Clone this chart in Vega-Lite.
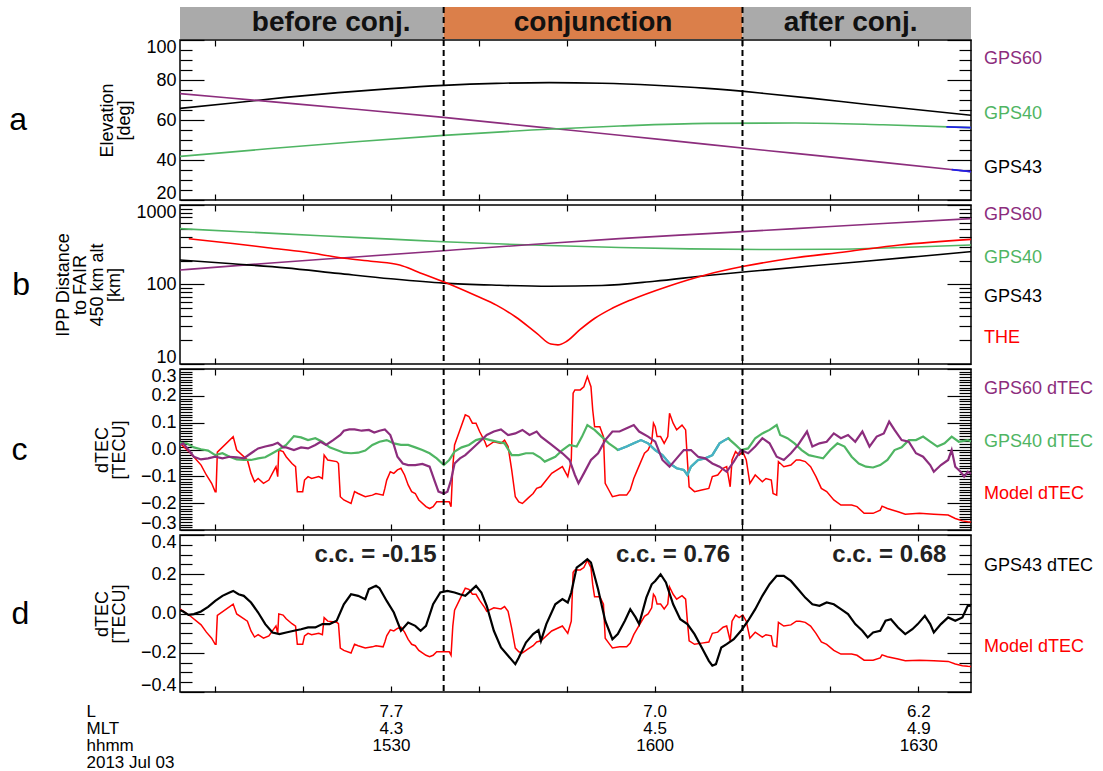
{
"$schema": "https://vega.github.io/schema/vega-lite/v6.json",
"padding": {"left": 8, "top": 6, "right": 4, "bottom": 2},
"config": {
 "font": "Liberation Sans",
 "view": {"stroke": "#000000", "strokeWidth": 1.5},
 "axis": {"labelFont": "Liberation Sans", "labelFontSize": 18, "labelColor": "#000000", "titleFont": "Liberation Sans", "titleFontSize": 18, "titleFontWeight": "normal", "titleColor": "#000000", "tickColor": "#000000", "tickWidth": 1.2, "domain": false, "grid": false, "labelOverlap": false, "labelFlush": false, "labelBound": false, "titlePadding": 12, "titleLineHeight": 17}
},
"datasets": {
 "phases": [
  {"phase": "before", "start": 6, "end": 36, "mid": 23.2, "label": "before conj."},
  {"phase": "conj", "start": 36, "end": 70, "mid": 53, "label": "conjunction"},
  {"phase": "after", "start": 70, "end": 96, "mid": 82.3, "label": "after conj."}
 ],
 "conj": [{"t": 36}, {"t": 70}],
 "labels": [
  {"p": "a", "t": 96, "v": 90.5, "text": "GPS60", "s": "GPS60"},
  {"p": "a", "t": 96, "v": 63, "text": "GPS40", "s": "GPS40"},
  {"p": "a", "t": 96, "v": 36, "text": "GPS43", "s": "GPS43"},
  {"p": "b", "t": 96, "v": 748, "text": "GPS60", "s": "GPS60"},
  {"p": "b", "t": 96, "v": 215, "text": "GPS40", "s": "GPS40"},
  {"p": "b", "t": 96, "v": 70, "text": "GPS43", "s": "GPS43"},
  {"p": "b", "t": 96, "v": 21.2, "text": "THE", "s": "THE"},
  {"p": "c", "t": 96, "v": 0.226, "text": "GPS60 dTEC", "s": "GPS60"},
  {"p": "c", "t": 96, "v": 0.028, "text": "GPS40 dTEC", "s": "GPS40"},
  {"p": "c", "t": 96, "v": -0.166, "text": "Model dTEC", "s": "Model"},
  {"p": "d", "t": 96, "v": 0.241, "text": "GPS43 dTEC", "s": "GPS43"},
  {"p": "d", "t": 96, "v": -0.171, "text": "Model dTEC", "s": "Model"}
 ],
 "cc": [
  {"t": 35.2, "v": 0.3, "text": "c.c. = -0.15"},
  {"t": 68.6, "v": 0.3, "text": "c.c. = 0.76"},
  {"t": 93.2, "v": 0.3, "text": "c.c. = 0.68"}
 ],
 "elev": [
  {"t":6,"v":65.8,"s":"GPS43"},{"t":12,"v":68.5,"s":"GPS43"},{"t":18,"v":71.3,"s":"GPS43"},{"t":24,"v":73.7,"s":"GPS43"},{"t":30,"v":75.7,"s":"GPS43"},{"t":36,"v":77.3,"s":"GPS43"},{"t":42,"v":78.3,"s":"GPS43"},{"t":48,"v":78.7,"s":"GPS43"},{"t":54,"v":78.4,"s":"GPS43"},{"t":60,"v":77.4,"s":"GPS43"},{"t":66,"v":75.8,"s":"GPS43"},{"t":72,"v":73.5,"s":"GPS43"},{"t":78,"v":70.8,"s":"GPS43"},{"t":84,"v":67.9,"s":"GPS43"},{"t":90,"v":65.1,"s":"GPS43"},{"t":96,"v":62.4,"s":"GPS43"},
  {"t":6,"v":73.2,"s":"GPS60"},{"t":16,"v":69.3,"s":"GPS60"},{"t":26,"v":65.4,"s":"GPS60"},{"t":36,"v":61.3,"s":"GPS60"},{"t":46,"v":56.8,"s":"GPS60"},{"t":56,"v":52.4,"s":"GPS60"},{"t":66,"v":47.8,"s":"GPS60"},{"t":76,"v":43.3,"s":"GPS60"},{"t":86,"v":38.8,"s":"GPS60"},{"t":96,"v":34.2,"s":"GPS60"},
  {"t":6,"v":41.8,"s":"GPS40"},{"t":16,"v":45.6,"s":"GPS40"},{"t":26,"v":49.1,"s":"GPS40"},{"t":36,"v":52.3,"s":"GPS40"},{"t":46,"v":55.0,"s":"GPS40"},{"t":56,"v":57.0,"s":"GPS40"},{"t":66,"v":58.3,"s":"GPS40"},{"t":76,"v":58.5,"s":"GPS40"},{"t":86,"v":57.6,"s":"GPS40"},{"t":96,"v":56.2,"s":"GPS40"},
  {"t":93.2,"v":56.55,"s":"blue1"},{"t":96,"v":56.2,"s":"blue1"},
  {"t":93.8,"v":35.2,"s":"blue2"},{"t":96,"v":34.2,"s":"blue2"}
 ],
 "ipp": [
  {"t":6,"v":504,"s":"GPS40"},{"t":14,"v":455,"s":"GPS40"},{"t":22,"v":410,"s":"GPS40"},{"t":30,"v":372,"s":"GPS40"},{"t":36,"v":345,"s":"GPS40"},{"t":42,"v":325,"s":"GPS40"},{"t":48,"v":309,"s":"GPS40"},{"t":56,"v":292,"s":"GPS40"},{"t":64,"v":281,"s":"GPS40"},{"t":72,"v":276,"s":"GPS40"},{"t":80,"v":277,"s":"GPS40"},{"t":88,"v":292,"s":"GPS40"},{"t":96,"v":314,"s":"GPS40"},
  {"t":6,"v":152,"s":"GPS60"},{"t":16,"v":185,"s":"GPS60"},{"t":26,"v":222,"s":"GPS60"},{"t":36,"v":266,"s":"GPS60"},{"t":46,"v":318,"s":"GPS60"},{"t":56,"v":378,"s":"GPS60"},{"t":66,"v":437,"s":"GPS60"},{"t":76,"v":505,"s":"GPS60"},{"t":86,"v":585,"s":"GPS60"},{"t":96,"v":673,"s":"GPS60"},
  {"t":6,"v":203,"s":"GPS43"},{"t":12,"v":182,"s":"GPS43"},{"t":18,"v":162,"s":"GPS43"},{"t":24,"v":138,"s":"GPS43"},{"t":30,"v":118,"s":"GPS43"},{"t":36,"v":104,"s":"GPS43"},{"t":42,"v":98,"s":"GPS43"},{"t":48,"v":95,"s":"GPS43"},{"t":54,"v":97,"s":"GPS43"},{"t":60,"v":110,"s":"GPS43"},{"t":66,"v":130,"s":"GPS43"},{"t":72,"v":150,"s":"GPS43"},{"t":78,"v":172,"s":"GPS43"},{"t":84,"v":196,"s":"GPS43"},{"t":90,"v":225,"s":"GPS43"},{"t":96,"v":259,"s":"GPS43"},
  {"t":7,"v":377,"s":"THE"},{"t":12,"v":328,"s":"THE"},{"t":16,"v":290,"s":"THE"},{"t":20,"v":258,"s":"THE"},{"t":24.7,"v":214,"s":"THE"},{"t":28,"v":195,"s":"THE"},{"t":31,"v":176,"s":"THE"},{"t":33,"v":145,"s":"THE"},{"t":36,"v":108,"s":"THE"},{"t":39.7,"v":72,"s":"THE"},{"t":42,"v":55,"s":"THE"},{"t":44.2,"v":39,"s":"THE"},{"t":46.6,"v":24.3,"s":"THE"},{"t":48.2,"v":17.8,"s":"THE"},{"t":49,"v":17.4,"s":"THE"},{"t":49.9,"v":19,"s":"THE"},{"t":51.5,"v":27,"s":"THE"},{"t":53.2,"v":37.6,"s":"THE"},{"t":55,"v":49,"s":"THE"},{"t":57.3,"v":64,"s":"THE"},{"t":61.4,"v":94,"s":"THE"},{"t":65.8,"v":132,"s":"THE"},{"t":70,"v":168,"s":"THE"},{"t":75.6,"v":214,"s":"THE"},{"t":81.8,"v":258,"s":"THE"},{"t":87.9,"v":314,"s":"THE"},{"t":96,"v":370,"s":"THE"}
 ],
 "dtec": [
  {"t":6,"v":0.023,"s":"Model"},{"t":7.2,"v":-0.014,"s":"Model"},{"t":8.4,"v":-0.058,"s":"Model"},{"t":9,"v":-0.095,"s":"Model"},{"t":9.6,"v":-0.126,"s":"Model"},{"t":10,"v":-0.157,"s":"Model"},{"t":10.1,"v":-0.157,"s":"Model"},{"t":10.25,"v":-0.01,"s":"Model"},{"t":12.05,"v":0.048,"s":"Model"},{"t":12.45,"v":-0.002,"s":"Model"},{"t":13.67,"v":-0.039,"s":"Model"},{"t":14.08,"v":-0.089,"s":"Model"},{"t":14.48,"v":-0.12,"s":"Model"},{"t":14.89,"v":-0.108,"s":"Model"},{"t":15.5,"v":-0.126,"s":"Model"},{"t":16.11,"v":-0.114,"s":"Model"},{"t":16.72,"v":-0.076,"s":"Model"},{"t":16.92,"v":-0.064,"s":"Model"},{"t":17.12,"v":-0.101,"s":"Model"},{"t":17.24,"v":-0.002,"s":"Model"},{"t":17.73,"v":-0.008,"s":"Model"},{"t":18.08,"v":-0.027,"s":"Model"},{"t":18.74,"v":-0.052,"s":"Model"},{"t":19.15,"v":-0.064,"s":"Model"},{"t":19.35,"v":-0.157,"s":"Model"},{"t":19.96,"v":-0.157,"s":"Model"},{"t":20.17,"v":-0.114,"s":"Model"},{"t":20.57,"v":-0.101,"s":"Model"},{"t":20.98,"v":-0.108,"s":"Model"},{"t":21.79,"v":-0.101,"s":"Model"},{"t":22.2,"v":-0.108,"s":"Model"},{"t":22.4,"v":-0.021,"s":"Model"},{"t":22.81,"v":-0.039,"s":"Model"},{"t":23.83,"v":-0.045,"s":"Model"},{"t":24.03,"v":-0.052,"s":"Model"},{"t":24.24,"v":-0.176,"s":"Model"},{"t":24.64,"v":-0.188,"s":"Model"},{"t":25.46,"v":-0.201,"s":"Model"},{"t":25.86,"v":-0.157,"s":"Model"},{"t":26.27,"v":-0.164,"s":"Model"},{"t":27.08,"v":-0.176,"s":"Model"},{"t":27.89,"v":-0.17,"s":"Model"},{"t":28.3,"v":-0.164,"s":"Model"},{"t":29.11,"v":-0.17,"s":"Model"},{"t":29.31,"v":-0.145,"s":"Model"},{"t":29.52,"v":-0.114,"s":"Model"},{"t":29.93,"v":-0.083,"s":"Model"},{"t":30.33,"v":-0.089,"s":"Model"},{"t":30.74,"v":-0.076,"s":"Model"},{"t":31.14,"v":-0.07,"s":"Model"},{"t":31.55,"v":-0.095,"s":"Model"},{"t":31.96,"v":-0.132,"s":"Model"},{"t":32.36,"v":-0.157,"s":"Model"},{"t":32.77,"v":-0.164,"s":"Model"},{"t":33.17,"v":-0.188,"s":"Model"},{"t":33.99,"v":-0.213,"s":"Model"},{"t":34.4,"v":-0.22,"s":"Model"},{"t":34.8,"v":-0.213,"s":"Model"},{"t":35.21,"v":-0.195,"s":"Model"},{"t":36.02,"v":-0.195,"s":"Model"},{"t":36.63,"v":-0.195,"s":"Model"},{"t":36.84,"v":-0.213,"s":"Model"},{"t":37.04,"v":-0.064,"s":"Model"},{"t":37.24,"v":0.017,"s":"Model"},{"t":37.85,"v":0.073,"s":"Model"},{"t":38.46,"v":0.129,"s":"Model"},{"t":38.87,"v":0.123,"s":"Model"},{"t":39.27,"v":0.098,"s":"Model"},{"t":39.68,"v":0.098,"s":"Model"},{"t":40.09,"v":0.067,"s":"Model"},{"t":40.69,"v":0.029,"s":"Model"},{"t":40.9,"v":0.011,"s":"Model"},{"t":41.71,"v":0.029,"s":"Model"},{"t":42.52,"v":0.023,"s":"Model"},{"t":42.93,"v":0.035,"s":"Model"},{"t":43.33,"v":0.011,"s":"Model"},{"t":43.74,"v":-0.076,"s":"Model"},{"t":44.15,"v":-0.176,"s":"Model"},{"t":44.55,"v":-0.195,"s":"Model"},{"t":44.96,"v":-0.201,"s":"Model"},{"t":45.57,"v":-0.182,"s":"Model"},{"t":46.18,"v":-0.164,"s":"Model"},{"t":46.58,"v":-0.145,"s":"Model"},{"t":47.07,"v":-0.139,"s":"Model"},{"t":48.29,"v":-0.089,"s":"Model"},{"t":49.51,"v":-0.064,"s":"Model"},{"t":50.12,"v":-0.101,"s":"Model"},{"t":50.52,"v":-0.039,"s":"Model"},{"t":50.73,"v":0.21,"s":"Model"},{"t":50.93,"v":0.222,"s":"Model"},{"t":51.54,"v":0.222,"s":"Model"},{"t":51.95,"v":0.234,"s":"Model"},{"t":52.35,"v":0.272,"s":"Model"},{"t":52.76,"v":0.234,"s":"Model"},{"t":52.96,"v":0.147,"s":"Model"},{"t":53.17,"v":0.085,"s":"Model"},{"t":53.77,"v":0.085,"s":"Model"},{"t":54.18,"v":0.048,"s":"Model"},{"t":54.38,"v":-0.126,"s":"Model"},{"t":54.79,"v":-0.151,"s":"Model"},{"t":55.2,"v":-0.176,"s":"Model"},{"t":56.01,"v":-0.17,"s":"Model"},{"t":56.82,"v":-0.17,"s":"Model"},{"t":57.23,"v":-0.151,"s":"Model"},{"t":57.63,"v":-0.108,"s":"Model"},{"t":58.04,"v":-0.076,"s":"Model"},{"t":58.85,"v":-0.014,"s":"Model"},{"t":59.26,"v":-0.002,"s":"Model"},{"t":59.67,"v":0.029,"s":"Model"},{"t":59.87,"v":0.098,"s":"Model"},{"t":60.07,"v":0.085,"s":"Model"},{"t":60.28,"v":0.048,"s":"Model"},{"t":60.68,"v":0.048,"s":"Model"},{"t":61.09,"v":0.023,"s":"Model"},{"t":61.5,"v":0.048,"s":"Model"},{"t":61.7,"v":0.135,"s":"Model"},{"t":62.11,"v":0.098,"s":"Model"},{"t":62.51,"v":0.073,"s":"Model"},{"t":63.12,"v":0.091,"s":"Model"},{"t":63.53,"v":0.073,"s":"Model"},{"t":63.73,"v":-0.039,"s":"Model"},{"t":63.93,"v":-0.139,"s":"Model"},{"t":64.54,"v":-0.157,"s":"Model"},{"t":65.36,"v":-0.151,"s":"Model"},{"t":66.17,"v":-0.145,"s":"Model"},{"t":66.57,"v":-0.101,"s":"Model"},{"t":67.18,"v":-0.095,"s":"Model"},{"t":67.79,"v":-0.07,"s":"Model"},{"t":68.2,"v":-0.064,"s":"Model"},{"t":68.6,"v":-0.139,"s":"Model"},{"t":68.81,"v":-0.039,"s":"Model"},{"t":69.21,"v":-0.008,"s":"Model"},{"t":69.62,"v":-0.021,"s":"Model"},{"t":70.03,"v":-0.008,"s":"Model"},{"t":70.43,"v":-0.039,"s":"Model"},{"t":70.84,"v":-0.126,"s":"Model"},{"t":71.45,"v":-0.095,"s":"Model"},{"t":72.26,"v":-0.12,"s":"Model"},{"t":72.67,"v":-0.108,"s":"Model"},{"t":73.28,"v":-0.114,"s":"Model"},{"t":73.48,"v":-0.164,"s":"Model"},{"t":73.89,"v":-0.17,"s":"Model"},{"t":74.09,"v":-0.045,"s":"Model"},{"t":74.7,"v":-0.064,"s":"Model"},{"t":75.51,"v":-0.058,"s":"Model"},{"t":76.12,"v":-0.039,"s":"Model"},{"t":76.53,"v":-0.039,"s":"Model"},{"t":77.14,"v":-0.045,"s":"Model"},{"t":77.75,"v":-0.064,"s":"Model"},{"t":78.36,"v":-0.101,"s":"Model"},{"t":78.97,"v":-0.145,"s":"Model"},{"t":79.58,"v":-0.157,"s":"Model"},{"t":80.39,"v":-0.188,"s":"Model"},{"t":81.2,"v":-0.207,"s":"Model"},{"t":82.42,"v":-0.207,"s":"Model"},{"t":83.03,"v":-0.213,"s":"Model"},{"t":83.84,"v":-0.238,"s":"Model"},{"t":84.86,"v":-0.238,"s":"Model"},{"t":85.67,"v":-0.226,"s":"Model"},{"t":85.88,"v":-0.211,"s":"Model"},{"t":86.49,"v":-0.22,"s":"Model"},{"t":87.7,"v":-0.232,"s":"Model"},{"t":88.52,"v":-0.241,"s":"Model"},{"t":90.14,"v":-0.238,"s":"Model"},{"t":91.77,"v":-0.241,"s":"Model"},{"t":93.4,"v":-0.244,"s":"Model"},{"t":94.21,"v":-0.257,"s":"Model"},{"t":95.02,"v":-0.266,"s":"Model"},{"t":95.63,"v":-0.269,"s":"Model"},{"t":96,"v":-0.27,"s":"Model"},
  {"t":6,"v":0.025,"s":"GPS40"},{"t":6.76,"v":0.023,"s":"GPS40"},{"t":7.58,"v":0.008,"s":"GPS40"},{"t":8.39,"v":0.001,"s":"GPS40"},{"t":9.2,"v":-0.004,"s":"GPS40"},{"t":10.01,"v":-0.021,"s":"GPS40"},{"t":10.83,"v":-0.014,"s":"GPS40"},{"t":11.64,"v":-0.027,"s":"GPS40"},{"t":12.45,"v":-0.037,"s":"GPS40"},{"t":13.26,"v":-0.039,"s":"GPS40"},{"t":14.08,"v":-0.039,"s":"GPS40"},{"t":14.89,"v":-0.033,"s":"GPS40"},{"t":15.7,"v":-0.029,"s":"GPS40"},{"t":16.52,"v":-0.014,"s":"GPS40"},{"t":17.32,"v":0.001,"s":"GPS40"},{"t":18.08,"v":0.017,"s":"GPS40"},{"t":18.96,"v":0.05,"s":"GPS40"},{"t":19.77,"v":0.045,"s":"GPS40"},{"t":20.57,"v":0.035,"s":"GPS40"},{"t":21.4,"v":0.042,"s":"GPS40"},{"t":22.2,"v":0.029,"s":"GPS40"},{"t":23.02,"v":0.008,"s":"GPS40"},{"t":23.83,"v":-0.002,"s":"GPS40"},{"t":24.64,"v":-0.012,"s":"GPS40"},{"t":25.46,"v":-0.014,"s":"GPS40"},{"t":26.27,"v":-0.012,"s":"GPS40"},{"t":27.08,"v":-0.004,"s":"GPS40"},{"t":27.89,"v":0.017,"s":"GPS40"},{"t":28.7,"v":0.029,"s":"GPS40"},{"t":29.52,"v":0.035,"s":"GPS40"},{"t":30.33,"v":0.023,"s":"GPS40"},{"t":31.14,"v":0.017,"s":"GPS40"},{"t":31.96,"v":0.017,"s":"GPS40"},{"t":32.77,"v":0.008,"s":"GPS40"},{"t":33.58,"v":-0.002,"s":"GPS40"},{"t":34.4,"v":-0.014,"s":"GPS40"},{"t":35.21,"v":-0.033,"s":"GPS40"},{"t":36.02,"v":-0.058,"s":"GPS40"},{"t":36.63,"v":-0.039,"s":"GPS40"},{"t":37.24,"v":-0.008,"s":"GPS40"},{"t":38.05,"v":0.008,"s":"GPS40"},{"t":38.87,"v":0.017,"s":"GPS40"},{"t":39.68,"v":0.035,"s":"GPS40"},{"t":40.49,"v":0.042,"s":"GPS40"},{"t":41.31,"v":0.035,"s":"GPS40"},{"t":42.12,"v":0.029,"s":"GPS40"},{"t":42.93,"v":0.023,"s":"GPS40"},{"t":43.74,"v":-0.021,"s":"GPS40"},{"t":44.55,"v":-0.021,"s":"GPS40"},{"t":45.36,"v":-0.014,"s":"GPS40"},{"t":46.18,"v":-0.014,"s":"GPS40"},{"t":46.99,"v":-0.03,"s":"GPS40"},{"t":47.5,"v":-0.045,"s":"GPS40"},{"t":48.7,"v":-0.027,"s":"GPS40"},{"t":49.51,"v":-0.002,"s":"GPS40"},{"t":50.32,"v":0.017,"s":"GPS40"},{"t":51.13,"v":0.011,"s":"GPS40"},{"t":51.74,"v":0.048,"s":"GPS40"},{"t":52.35,"v":0.091,"s":"GPS40"},{"t":53.17,"v":0.073,"s":"GPS40"},{"t":53.98,"v":0.048,"s":"GPS40"},{"t":54.79,"v":0.023,"s":"GPS40"},{"t":55.6,"v":0.004,"s":"GPS40"},{"t":55.81,"v":-0.002,"s":"GPS40"},{"t":56.82,"v":0.011,"s":"GPS40"},{"t":57.63,"v":0.023,"s":"GPS40"},{"t":58.45,"v":0.035,"s":"GPS40"},{"t":59.26,"v":0.023,"s":"GPS40"},{"t":60.07,"v":-0.002,"s":"GPS40"},{"t":60.89,"v":-0.021,"s":"GPS40"},{"t":61.7,"v":-0.052,"s":"GPS40"},{"t":62.51,"v":-0.07,"s":"GPS40"},{"t":63.32,"v":-0.076,"s":"GPS40"},{"t":63.73,"v":-0.095,"s":"GPS40"},{"t":64.14,"v":-0.064,"s":"GPS40"},{"t":64.95,"v":-0.039,"s":"GPS40"},{"t":65.76,"v":-0.033,"s":"GPS40"},{"t":66.57,"v":-0.021,"s":"GPS40"},{"t":67.39,"v":0.023,"s":"GPS40"},{"t":67.99,"v":0.035,"s":"GPS40"},{"t":68.4,"v":0.042,"s":"GPS40"},{"t":68.6,"v":0.035,"s":"GPS40"},{"t":69.21,"v":0.017,"s":"GPS40"},{"t":69.83,"v":-0.002,"s":"GPS40"},{"t":70.64,"v":0.004,"s":"GPS40"},{"t":71.45,"v":0.042,"s":"GPS40"},{"t":72.26,"v":0.06,"s":"GPS40"},{"t":73.08,"v":0.073,"s":"GPS40"},{"t":73.89,"v":0.091,"s":"GPS40"},{"t":74.29,"v":0.054,"s":"GPS40"},{"t":75.11,"v":0.042,"s":"GPS40"},{"t":75.92,"v":0.023,"s":"GPS40"},{"t":76.73,"v":-0.002,"s":"GPS40"},{"t":77.55,"v":-0.021,"s":"GPS40"},{"t":78.36,"v":-0.027,"s":"GPS40"},{"t":79.17,"v":-0.033,"s":"GPS40"},{"t":79.98,"v":-0.002,"s":"GPS40"},{"t":80.8,"v":0.023,"s":"GPS40"},{"t":81.61,"v":0.011,"s":"GPS40"},{"t":82.42,"v":-0.027,"s":"GPS40"},{"t":83.23,"v":-0.052,"s":"GPS40"},{"t":84.05,"v":-0.064,"s":"GPS40"},{"t":84.86,"v":-0.067,"s":"GPS40"},{"t":85.67,"v":-0.058,"s":"GPS40"},{"t":86.49,"v":-0.039,"s":"GPS40"},{"t":87.3,"v":-0.002,"s":"GPS40"},{"t":88.11,"v":0.008,"s":"GPS40"},{"t":88.92,"v":0.035,"s":"GPS40"},{"t":89.74,"v":0.035,"s":"GPS40"},{"t":90.55,"v":0.048,"s":"GPS40"},{"t":91.36,"v":0.029,"s":"GPS40"},{"t":92.17,"v":0.011,"s":"GPS40"},{"t":92.99,"v":0.023,"s":"GPS40"},{"t":93.8,"v":0.048,"s":"GPS40"},{"t":94.61,"v":0.029,"s":"GPS40"},{"t":95.63,"v":0.035,"s":"GPS40"},{"t":96,"v":0.03,"s":"GPS40"},
  {"t":55.81,"v":-0.002,"s":"GPS40c"},{"t":56.82,"v":0.011,"s":"GPS40c"},{"t":57.63,"v":0.023,"s":"GPS40c"},{"t":58.45,"v":0.035,"s":"GPS40c"},{"t":59.26,"v":0.023,"s":"GPS40c"},{"t":60.07,"v":-0.002,"s":"GPS40c"},{"t":60.89,"v":-0.021,"s":"GPS40c"},{"t":61.7,"v":-0.052,"s":"GPS40c"},{"t":62.51,"v":-0.07,"s":"GPS40c"},{"t":63.32,"v":-0.076,"s":"GPS40c"},{"t":63.73,"v":-0.095,"s":"GPS40c"},{"t":64.14,"v":-0.064,"s":"GPS40c"},{"t":64.95,"v":-0.039,"s":"GPS40c"},{"t":65.76,"v":-0.033,"s":"GPS40c"},{"t":66.57,"v":-0.021,"s":"GPS40c"},{"t":67.39,"v":0.023,"s":"GPS40c"},{"t":67.99,"v":0.035,"s":"GPS40c"},{"t":68.4,"v":0.042,"s":"GPS40c"},
  {"t":6,"v":0.017,"s":"GPS60"},{"t":6.36,"v":0.023,"s":"GPS60"},{"t":6.97,"v":-0.002,"s":"GPS60"},{"t":7.58,"v":-0.027,"s":"GPS60"},{"t":8.39,"v":-0.037,"s":"GPS60"},{"t":9.2,"v":-0.033,"s":"GPS60"},{"t":10.01,"v":-0.027,"s":"GPS60"},{"t":10.83,"v":-0.033,"s":"GPS60"},{"t":11.64,"v":-0.027,"s":"GPS60"},{"t":12.45,"v":-0.029,"s":"GPS60"},{"t":13.26,"v":-0.033,"s":"GPS60"},{"t":14.08,"v":-0.014,"s":"GPS60"},{"t":14.89,"v":0.004,"s":"GPS60"},{"t":15.7,"v":0.011,"s":"GPS60"},{"t":16.52,"v":0.017,"s":"GPS60"},{"t":17.12,"v":0.025,"s":"GPS60"},{"t":17.73,"v":0.008,"s":"GPS60"},{"t":18.08,"v":0.008,"s":"GPS60"},{"t":18.96,"v":-0.002,"s":"GPS60"},{"t":19.77,"v":0.008,"s":"GPS60"},{"t":20.57,"v":0.004,"s":"GPS60"},{"t":21.4,"v":0.017,"s":"GPS60"},{"t":22,"v":0.029,"s":"GPS60"},{"t":22.62,"v":0.017,"s":"GPS60"},{"t":23.43,"v":0.035,"s":"GPS60"},{"t":24.24,"v":0.054,"s":"GPS60"},{"t":24.64,"v":0.07,"s":"GPS60"},{"t":25.26,"v":0.075,"s":"GPS60"},{"t":25.86,"v":0.075,"s":"GPS60"},{"t":26.67,"v":0.07,"s":"GPS60"},{"t":27.49,"v":0.073,"s":"GPS60"},{"t":28.1,"v":0.063,"s":"GPS60"},{"t":28.7,"v":0.07,"s":"GPS60"},{"t":29.31,"v":0.075,"s":"GPS60"},{"t":29.93,"v":0.054,"s":"GPS60"},{"t":30.33,"v":0.017,"s":"GPS60"},{"t":30.74,"v":-0.027,"s":"GPS60"},{"t":31.35,"v":-0.052,"s":"GPS60"},{"t":31.96,"v":-0.058,"s":"GPS60"},{"t":32.77,"v":-0.058,"s":"GPS60"},{"t":33.58,"v":-0.054,"s":"GPS60"},{"t":34.4,"v":-0.064,"s":"GPS60"},{"t":35,"v":-0.12,"s":"GPS60"},{"t":35.41,"v":-0.157,"s":"GPS60"},{"t":36.02,"v":-0.164,"s":"GPS60"},{"t":36.43,"v":-0.157,"s":"GPS60"},{"t":36.84,"v":-0.114,"s":"GPS60"},{"t":37.24,"v":-0.052,"s":"GPS60"},{"t":37.85,"v":-0.033,"s":"GPS60"},{"t":38.46,"v":-0.021,"s":"GPS60"},{"t":39.27,"v":0.004,"s":"GPS60"},{"t":40.09,"v":0.029,"s":"GPS60"},{"t":40.9,"v":0.054,"s":"GPS60"},{"t":41.71,"v":0.067,"s":"GPS60"},{"t":42.52,"v":0.075,"s":"GPS60"},{"t":43.33,"v":0.054,"s":"GPS60"},{"t":44.15,"v":0.06,"s":"GPS60"},{"t":44.96,"v":0.073,"s":"GPS60"},{"t":45.77,"v":0.054,"s":"GPS60"},{"t":46.58,"v":0.067,"s":"GPS60"},{"t":47.07,"v":0.048,"s":"GPS60"},{"t":48.29,"v":0.017,"s":"GPS60"},{"t":49.51,"v":-0.014,"s":"GPS60"},{"t":50.32,"v":-0.039,"s":"GPS60"},{"t":50.93,"v":-0.095,"s":"GPS60"},{"t":51.34,"v":-0.126,"s":"GPS60"},{"t":51.95,"v":-0.089,"s":"GPS60"},{"t":52.76,"v":-0.039,"s":"GPS60"},{"t":53.57,"v":-0.014,"s":"GPS60"},{"t":54.38,"v":0.035,"s":"GPS60"},{"t":55.2,"v":0.067,"s":"GPS60"},{"t":56.01,"v":0.067,"s":"GPS60"},{"t":56.82,"v":0.079,"s":"GPS60"},{"t":57.63,"v":0.091,"s":"GPS60"},{"t":58.24,"v":0.067,"s":"GPS60"},{"t":59.26,"v":0.048,"s":"GPS60"},{"t":60.07,"v":0.029,"s":"GPS60"},{"t":60.89,"v":-0.039,"s":"GPS60"},{"t":61.7,"v":-0.064,"s":"GPS60"},{"t":62.51,"v":-0.033,"s":"GPS60"},{"t":63.32,"v":-0.002,"s":"GPS60"},{"t":64.14,"v":-0.002,"s":"GPS60"},{"t":64.95,"v":-0.027,"s":"GPS60"},{"t":65.76,"v":-0.033,"s":"GPS60"},{"t":66.57,"v":-0.052,"s":"GPS60"},{"t":67.39,"v":-0.064,"s":"GPS60"},{"t":68.2,"v":-0.083,"s":"GPS60"},{"t":69.01,"v":-0.045,"s":"GPS60"},{"t":69.83,"v":-0.002,"s":"GPS60"},{"t":70.64,"v":-0.014,"s":"GPS60"},{"t":71.45,"v":0.011,"s":"GPS60"},{"t":72.26,"v":0.042,"s":"GPS60"},{"t":73.08,"v":0.023,"s":"GPS60"},{"t":73.89,"v":-0.027,"s":"GPS60"},{"t":74.7,"v":-0.039,"s":"GPS60"},{"t":75.51,"v":-0.014,"s":"GPS60"},{"t":76.33,"v":0.017,"s":"GPS60"},{"t":77.34,"v":0.067,"s":"GPS60"},{"t":77.95,"v":0.011,"s":"GPS60"},{"t":78.76,"v":0.023,"s":"GPS60"},{"t":79.58,"v":0.029,"s":"GPS60"},{"t":80.39,"v":0.06,"s":"GPS60"},{"t":81.2,"v":0.042,"s":"GPS60"},{"t":82.01,"v":0.054,"s":"GPS60"},{"t":82.83,"v":0.029,"s":"GPS60"},{"t":83.64,"v":0.067,"s":"GPS60"},{"t":84.45,"v":0.011,"s":"GPS60"},{"t":85.27,"v":0.048,"s":"GPS60"},{"t":86.08,"v":0.06,"s":"GPS60"},{"t":86.69,"v":0.104,"s":"GPS60"},{"t":87.3,"v":0.073,"s":"GPS60"},{"t":88.11,"v":0.035,"s":"GPS60"},{"t":88.92,"v":0.029,"s":"GPS60"},{"t":89.74,"v":-0.014,"s":"GPS60"},{"t":90.55,"v":-0.027,"s":"GPS60"},{"t":91.36,"v":-0.058,"s":"GPS60"},{"t":91.77,"v":-0.083,"s":"GPS60"},{"t":92.58,"v":-0.058,"s":"GPS60"},{"t":93.4,"v":-0.039,"s":"GPS60"},{"t":93.8,"v":-0.002,"s":"GPS60"},{"t":94.21,"v":-0.064,"s":"GPS60"},{"t":94.82,"v":-0.083,"s":"GPS60"},{"t":95.22,"v":-0.101,"s":"GPS60"},{"t":95.63,"v":-0.083,"s":"GPS60"},{"t":96,"v":-0.09,"s":"GPS60"},
  {"t":6,"v":0.017,"s":"GPS43"},{"t":6.36,"v":0.01,"s":"GPS43"},{"t":6.97,"v":-0.007,"s":"GPS43"},{"t":7.58,"v":-0.003,"s":"GPS43"},{"t":8.39,"v":0.01,"s":"GPS43"},{"t":9.2,"v":0.034,"s":"GPS43"},{"t":10.01,"v":0.064,"s":"GPS43"},{"t":10.83,"v":0.09,"s":"GPS43"},{"t":11.64,"v":0.107,"s":"GPS43"},{"t":12.05,"v":0.115,"s":"GPS43"},{"t":12.66,"v":0.098,"s":"GPS43"},{"t":13.26,"v":0.09,"s":"GPS43"},{"t":14.08,"v":0.056,"s":"GPS43"},{"t":14.89,"v":0.005,"s":"GPS43"},{"t":15.7,"v":-0.054,"s":"GPS43"},{"t":16.52,"v":-0.097,"s":"GPS43"},{"t":17.32,"v":-0.105,"s":"GPS43"},{"t":18.08,"v":-0.097,"s":"GPS43"},{"t":18.96,"v":-0.088,"s":"GPS43"},{"t":19.77,"v":-0.08,"s":"GPS43"},{"t":20.57,"v":-0.071,"s":"GPS43"},{"t":21.4,"v":-0.071,"s":"GPS43"},{"t":22.2,"v":-0.054,"s":"GPS43"},{"t":23.02,"v":-0.054,"s":"GPS43"},{"t":23.83,"v":-0.037,"s":"GPS43"},{"t":24.64,"v":0.047,"s":"GPS43"},{"t":25.46,"v":0.098,"s":"GPS43"},{"t":26.27,"v":0.09,"s":"GPS43"},{"t":27.08,"v":0.073,"s":"GPS43"},{"t":27.49,"v":0.124,"s":"GPS43"},{"t":28.3,"v":0.141,"s":"GPS43"},{"t":28.7,"v":0.129,"s":"GPS43"},{"t":29.52,"v":0.064,"s":"GPS43"},{"t":30.33,"v":0.005,"s":"GPS43"},{"t":31.14,"v":-0.088,"s":"GPS43"},{"t":31.96,"v":-0.046,"s":"GPS43"},{"t":32.77,"v":-0.063,"s":"GPS43"},{"t":33.38,"v":-0.088,"s":"GPS43"},{"t":33.99,"v":-0.063,"s":"GPS43"},{"t":34.8,"v":0.047,"s":"GPS43"},{"t":35.62,"v":0.107,"s":"GPS43"},{"t":36.43,"v":0.115,"s":"GPS43"},{"t":37.24,"v":0.107,"s":"GPS43"},{"t":37.85,"v":0.098,"s":"GPS43"},{"t":38.46,"v":0.09,"s":"GPS43"},{"t":39.07,"v":0.115,"s":"GPS43"},{"t":39.68,"v":0.141,"s":"GPS43"},{"t":40.29,"v":0.107,"s":"GPS43"},{"t":40.9,"v":0.039,"s":"GPS43"},{"t":41.71,"v":-0.088,"s":"GPS43"},{"t":42.52,"v":-0.173,"s":"GPS43"},{"t":43.33,"v":-0.215,"s":"GPS43"},{"t":44.15,"v":-0.258,"s":"GPS43"},{"t":44.55,"v":-0.224,"s":"GPS43"},{"t":45.36,"v":-0.148,"s":"GPS43"},{"t":46.18,"v":-0.105,"s":"GPS43"},{"t":46.79,"v":-0.085,"s":"GPS43"},{"t":47.07,"v":-0.139,"s":"GPS43"},{"t":47.68,"v":-0.054,"s":"GPS43"},{"t":48.7,"v":0.047,"s":"GPS43"},{"t":49.51,"v":0.073,"s":"GPS43"},{"t":50.12,"v":0.056,"s":"GPS43"},{"t":50.52,"v":0.107,"s":"GPS43"},{"t":51.13,"v":0.234,"s":"GPS43"},{"t":51.74,"v":0.254,"s":"GPS43"},{"t":52.35,"v":0.277,"s":"GPS43"},{"t":52.76,"v":0.26,"s":"GPS43"},{"t":53.57,"v":0.124,"s":"GPS43"},{"t":54.38,"v":-0.037,"s":"GPS43"},{"t":55.2,"v":-0.131,"s":"GPS43"},{"t":55.81,"v":-0.105,"s":"GPS43"},{"t":56.62,"v":-0.037,"s":"GPS43"},{"t":57.23,"v":0.022,"s":"GPS43"},{"t":57.84,"v":-0.02,"s":"GPS43"},{"t":58.24,"v":-0.054,"s":"GPS43"},{"t":59.06,"v":0.081,"s":"GPS43"},{"t":59.67,"v":0.149,"s":"GPS43"},{"t":60.07,"v":0.166,"s":"GPS43"},{"t":60.68,"v":0.2,"s":"GPS43"},{"t":61.29,"v":0.158,"s":"GPS43"},{"t":62.11,"v":0.047,"s":"GPS43"},{"t":62.92,"v":-0.029,"s":"GPS43"},{"t":63.73,"v":-0.054,"s":"GPS43"},{"t":64.54,"v":-0.105,"s":"GPS43"},{"t":65.36,"v":-0.173,"s":"GPS43"},{"t":66.17,"v":-0.241,"s":"GPS43"},{"t":66.57,"v":-0.266,"s":"GPS43"},{"t":66.98,"v":-0.258,"s":"GPS43"},{"t":67.59,"v":-0.173,"s":"GPS43"},{"t":68.2,"v":-0.156,"s":"GPS43"},{"t":69.01,"v":-0.131,"s":"GPS43"},{"t":69.83,"v":-0.088,"s":"GPS43"},{"t":70.64,"v":-0.037,"s":"GPS43"},{"t":71.45,"v":0.022,"s":"GPS43"},{"t":72.26,"v":0.09,"s":"GPS43"},{"t":73.08,"v":0.149,"s":"GPS43"},{"t":73.89,"v":0.192,"s":"GPS43"},{"t":74.7,"v":0.192,"s":"GPS43"},{"t":75.51,"v":0.166,"s":"GPS43"},{"t":76.33,"v":0.124,"s":"GPS43"},{"t":77.14,"v":0.081,"s":"GPS43"},{"t":77.95,"v":0.047,"s":"GPS43"},{"t":78.76,"v":0.039,"s":"GPS43"},{"t":79.58,"v":0.056,"s":"GPS43"},{"t":80.39,"v":0.047,"s":"GPS43"},{"t":81.2,"v":0.022,"s":"GPS43"},{"t":82.01,"v":-0.003,"s":"GPS43"},{"t":82.83,"v":-0.054,"s":"GPS43"},{"t":83.64,"v":-0.088,"s":"GPS43"},{"t":84.25,"v":-0.122,"s":"GPS43"},{"t":84.86,"v":-0.097,"s":"GPS43"},{"t":85.67,"v":-0.088,"s":"GPS43"},{"t":86.28,"v":-0.037,"s":"GPS43"},{"t":86.89,"v":-0.029,"s":"GPS43"},{"t":87.7,"v":-0.071,"s":"GPS43"},{"t":88.52,"v":-0.105,"s":"GPS43"},{"t":89.33,"v":-0.08,"s":"GPS43"},{"t":89.94,"v":-0.054,"s":"GPS43"},{"t":90.75,"v":-0.012,"s":"GPS43"},{"t":91.36,"v":-0.054,"s":"GPS43"},{"t":91.77,"v":-0.097,"s":"GPS43"},{"t":92.58,"v":-0.054,"s":"GPS43"},{"t":93.4,"v":-0.02,"s":"GPS43"},{"t":94.21,"v":-0.037,"s":"GPS43"},{"t":95.02,"v":-0.02,"s":"GPS43"},{"t":95.63,"v":0.039,"s":"GPS43"},{"t":96,"v":0.04,"s":"GPS43"}
 ]
},
"resolve": {"scale": {"color": "independent", "x": "independent", "y": "independent"}},
"bounds": "flush",
"spacing": 1,
"vconcat": [
 {
  "width": 791, "height": 32,
  "view": {"stroke": null},
  "layer": [
   {"data": {"name": "phases"}, "mark": {"type": "rect"},
    "encoding": {
     "x": {"field": "start", "type": "quantitative", "scale": {"domain": [6, 96], "nice": false, "zero": false}, "axis": null},
     "x2": {"field": "end"},
     "color": {"field": "phase", "type": "nominal", "scale": {"domain": ["before", "conj", "after"], "range": ["#aaaaaa", "#db7f4a", "#aaaaaa"]}, "legend": null}
    }},
   {"data": {"name": "phases"}, "mark": {"type": "text", "fontSize": 28, "fontWeight": "bold", "color": "#111111", "baseline": "middle"},
    "encoding": {
     "x": {"field": "mid", "type": "quantitative", "axis": null},
     "text": {"field": "label"}
    }},
   {"data": {"name": "conj"}, "mark": {"type": "rule", "strokeDash": [6, 4], "strokeWidth": 2, "color": "#000000"},
    "encoding": {"x": {"field": "t", "type": "quantitative", "axis": null}}}
  ]
 },
 {
  "spacing": 5,
  "bounds": "flush",
  "resolve": {"scale": {"color": "independent", "x": "independent", "y": "independent"}},
  "vconcat": [
   {
    "width": 791, "height": 160,
    "title": {"text": "a", "orient": "left", "angle": 0, "align": "right", "baseline": "middle", "fontSize": 32, "fontWeight": "normal", "offset": 54},
    "resolve": {"axis": {"x": "independent", "y": "independent"}},
    "layer": [
     {"data": {"name": "elev"}, "mark": {"type": "line", "strokeWidth": 1.6, "interpolate": "monotone", "clip": true},
      "encoding": {
       "x": {"field": "t", "type": "quantitative", "scale": {"domain": [6, 96], "nice": false, "zero": false},
             "axis": {"orient": "bottom", "values": [10, 20, 30, 40, 50, 60, 70, 80, 90], "labels": false, "tickSize": -6, "title": null}},
       "y": {"field": "v", "type": "quantitative", "scale": {"domain": [20, 100], "nice": false, "zero": false},
             "axis": {"orient": "left", "values": [20, 25, 30, 35, 40, 45, 50, 55, 60, 65, 70, 75, 80, 85, 90, 95, 100], "format": "d",
                      "labelExpr": "datum.value % 20 == 0 ? datum.label : ''", "labelFlush": true, "labelFlushOffset": 2,
                      "tickSize": {"condition": {"test": "datum.value % 20 == 0", "value": -24}, "value": -12},
                      "labelPadding": 28, "title": ["Elevation", "[deg]"]}},
       "color": {"field": "s", "type": "nominal", "legend": null,
                 "scale": {"domain": ["GPS43", "GPS60", "GPS40", "THE", "Model", "GPS40c", "blue1", "blue2"], "range": ["#000000", "#8c2d7d", "#4fb563", "#ff0000", "#ff0000", "#46b0c9", "#2020e8", "#2020e8"]}}
      }},
     {"data": {"name": "labels"}, "transform": [{"filter": "datum.p == 'a'"}],
      "mark": {"type": "text", "align": "left", "baseline": "middle", "dx": 13, "fontSize": 18},
      "encoding": {
       "x": {"field": "t", "type": "quantitative", "axis": {"orient": "top", "values": [10, 20, 30, 40, 50, 60, 70, 80, 90], "labels": false, "tickSize": -6, "title": null}},
       "y": {"field": "v", "type": "quantitative",
             "axis": {"orient": "right", "values": [20, 25, 30, 35, 40, 45, 50, 55, 60, 65, 70, 75, 80, 85, 90, 95, 100], "labels": false,
                      "tickSize": {"condition": {"test": "datum.value % 20 == 0", "value": -24}, "value": -12}, "title": null}},
       "text": {"field": "text"},
       "color": {"field": "s", "type": "nominal", "legend": null,
                 "scale": {"domain": ["GPS43", "GPS60", "GPS40", "THE", "Model", "GPS40c", "blue1", "blue2"], "range": ["#000000", "#8c2d7d", "#4fb563", "#ff0000", "#ff0000", "#46b0c9", "#2020e8", "#2020e8"]}}
      }},
     {"data": {"name": "conj"}, "mark": {"type": "rule", "strokeDash": [6, 4], "strokeWidth": 2, "color": "#000000"},
      "encoding": {"x": {"field": "t", "type": "quantitative", "axis": null}}}
    ]
   },
   {
    "width": 791, "height": 159,
    "title": {"text": "b", "orient": "left", "angle": 0, "align": "right", "baseline": "middle", "fontSize": 32, "fontWeight": "normal", "offset": 7},
    "resolve": {"axis": {"x": "independent", "y": "independent"}},
    "layer": [
     {"data": {"name": "ipp"}, "mark": {"type": "line", "strokeWidth": 1.6, "interpolate": "monotone", "clip": true},
      "encoding": {
       "x": {"field": "t", "type": "quantitative", "scale": {"domain": [6, 96], "nice": false, "zero": false},
             "axis": {"orient": "bottom", "values": [10, 20, 30, 40, 50, 60, 70, 80, 90], "labels": false, "tickSize": -6, "title": null}},
       "y": {"field": "v", "type": "quantitative", "scale": {"type": "log", "domain": [10, 1000], "nice": false},
             "axis": {"orient": "left", "values": [10, 20, 30, 40, 50, 60, 70, 80, 90, 100, 200, 300, 400, 500, 600, 700, 800, 900, 1000], "format": "d",
                      "labelExpr": "(datum.value == 10 || datum.value == 100 || datum.value == 1000) ? datum.label : ''", "labelFlush": true, "labelFlushOffset": 2,
                      "tickSize": {"condition": {"test": "datum.value == 10 || datum.value == 100 || datum.value == 1000", "value": -24}, "value": -12},
                      "labelPadding": 28, "title": ["IPP Distance", "to FAIR", "450 km alt", "[km]"]}},
       "color": {"field": "s", "type": "nominal", "legend": null,
                 "scale": {"domain": ["GPS43", "GPS60", "GPS40", "THE", "Model", "GPS40c", "blue1", "blue2"], "range": ["#000000", "#8c2d7d", "#4fb563", "#ff0000", "#ff0000", "#46b0c9", "#2020e8", "#2020e8"]}}
      }},
     {"data": {"name": "labels"}, "transform": [{"filter": "datum.p == 'b'"}],
      "mark": {"type": "text", "align": "left", "baseline": "middle", "dx": 13, "fontSize": 18},
      "encoding": {
       "x": {"field": "t", "type": "quantitative", "axis": {"orient": "top", "values": [10, 20, 30, 40, 50, 60, 70, 80, 90], "labels": false, "tickSize": -6, "title": null}},
       "y": {"field": "v", "type": "quantitative",
             "axis": {"orient": "right", "values": [10, 20, 30, 40, 50, 60, 70, 80, 90, 100, 200, 300, 400, 500, 600, 700, 800, 900, 1000], "labels": false,
                      "tickSize": {"condition": {"test": "datum.value == 10 || datum.value == 100 || datum.value == 1000", "value": -24}, "value": -12}, "title": null}},
       "text": {"field": "text"},
       "color": {"field": "s", "type": "nominal", "legend": null,
                 "scale": {"domain": ["GPS43", "GPS60", "GPS40", "THE", "Model", "GPS40c", "blue1", "blue2"], "range": ["#000000", "#8c2d7d", "#4fb563", "#ff0000", "#ff0000", "#46b0c9", "#2020e8", "#2020e8"]}}
      }},
     {"data": {"name": "conj"}, "mark": {"type": "rule", "strokeDash": [6, 4], "strokeWidth": 2, "color": "#000000"},
      "encoding": {"x": {"field": "t", "type": "quantitative", "axis": null}}}
    ]
   },
   {
    "width": 791, "height": 161,
    "title": {"text": "c", "orient": "left", "angle": 0, "align": "right", "baseline": "middle", "fontSize": 32, "fontWeight": "normal", "offset": 50},
    "resolve": {"axis": {"x": "independent", "y": "independent"}},
    "layer": [
     {"data": {"name": "dtec"}, "transform": [{"filter": "datum.s == 'Model'"}], "mark": {"type": "line", "strokeWidth": 1.5, "clip": true},
      "encoding": {
       "x": {"field": "t", "type": "quantitative", "scale": {"domain": [6, 96], "nice": false, "zero": false},
             "axis": {"orient": "bottom", "values": [10, 20, 30, 40, 50, 60, 70, 80, 90], "labels": false, "tickSize": -6, "title": null}},
       "y": {"field": "v", "type": "quantitative", "scale": {"domain": [-0.3, 0.3], "nice": false, "zero": false},
             "axis": {"orient": "left", "values": [-0.3,-0.29,-0.28,-0.27,-0.26,-0.25,-0.24,-0.23,-0.22,-0.21,-0.2,-0.19,-0.18,-0.17,-0.16,-0.15,-0.14,-0.13,-0.12,-0.11,-0.1,-0.09,-0.08,-0.07,-0.06,-0.05,-0.04,-0.03,-0.02,-0.01,0,0.01,0.02,0.03,0.04,0.05,0.06,0.07,0.08,0.09,0.1,0.11,0.12,0.13,0.14,0.15,0.16,0.17,0.18,0.19,0.2,0.21,0.22,0.23,0.24,0.25,0.26,0.27,0.28,0.29,0.3], "format": ".1f",
                      "labelExpr": "abs(datum.value * 10 - round(datum.value * 10)) < 0.001 ? datum.label : ''", "labelFlush": true, "labelFlushOffset": 2,
                      "tickSize": {"condition": {"test": "abs(datum.value * 10 - round(datum.value * 10)) < 0.001", "value": -24}, "value": -12},
                      "labelPadding": 28, "title": ["dTEC", "[TECU]"]}},
       "color": {"field": "s", "type": "nominal", "legend": null,
                 "scale": {"domain": ["GPS43", "GPS60", "GPS40", "THE", "Model", "GPS40c", "blue1", "blue2"], "range": ["#000000", "#8c2d7d", "#4fb563", "#ff0000", "#ff0000", "#46b0c9", "#2020e8", "#2020e8"]}}
      }},
     {"data": {"name": "dtec"}, "transform": [{"filter": "datum.s == 'GPS40' || datum.s == 'GPS40c' || datum.s == 'GPS60'"}], "mark": {"type": "line", "strokeWidth": 2.2, "clip": true},
      "encoding": {
       "x": {"field": "t", "type": "quantitative", "axis": null},
       "y": {"field": "v", "type": "quantitative", "axis": null},
       "color": {"field": "s", "type": "nominal", "legend": null,
                 "scale": {"domain": ["GPS43", "GPS60", "GPS40", "THE", "Model", "GPS40c", "blue1", "blue2"], "range": ["#000000", "#8c2d7d", "#4fb563", "#ff0000", "#ff0000", "#46b0c9", "#2020e8", "#2020e8"]}}
      }},
     {"data": {"name": "labels"}, "transform": [{"filter": "datum.p == 'c'"}],
      "mark": {"type": "text", "align": "left", "baseline": "middle", "dx": 13, "fontSize": 18},
      "encoding": {
       "x": {"field": "t", "type": "quantitative", "axis": {"orient": "top", "values": [10, 20, 30, 40, 50, 60, 70, 80, 90], "labels": false, "tickSize": -6, "title": null}},
       "y": {"field": "v", "type": "quantitative",
             "axis": {"orient": "right", "values": [-0.3,-0.29,-0.28,-0.27,-0.26,-0.25,-0.24,-0.23,-0.22,-0.21,-0.2,-0.19,-0.18,-0.17,-0.16,-0.15,-0.14,-0.13,-0.12,-0.11,-0.1,-0.09,-0.08,-0.07,-0.06,-0.05,-0.04,-0.03,-0.02,-0.01,0,0.01,0.02,0.03,0.04,0.05,0.06,0.07,0.08,0.09,0.1,0.11,0.12,0.13,0.14,0.15,0.16,0.17,0.18,0.19,0.2,0.21,0.22,0.23,0.24,0.25,0.26,0.27,0.28,0.29,0.3], "labels": false,
                      "tickSize": {"condition": {"test": "abs(datum.value * 10 - round(datum.value * 10)) < 0.001", "value": -24}, "value": -12}, "title": null}},
       "text": {"field": "text"},
       "color": {"field": "s", "type": "nominal", "legend": null,
                 "scale": {"domain": ["GPS43", "GPS60", "GPS40", "THE", "Model", "GPS40c", "blue1", "blue2"], "range": ["#000000", "#8c2d7d", "#4fb563", "#ff0000", "#ff0000", "#46b0c9", "#2020e8", "#2020e8"]}}
      }},
     {"data": {"name": "conj"}, "mark": {"type": "rule", "strokeDash": [6, 4], "strokeWidth": 2, "color": "#000000"},
      "encoding": {"x": {"field": "t", "type": "quantitative", "axis": null}}}
    ]
   },
   {
    "width": 791, "height": 157,
    "title": {"text": "d", "orient": "left", "angle": 0, "align": "right", "baseline": "middle", "fontSize": 32, "fontWeight": "normal", "offset": 39},
    "resolve": {"axis": {"x": "independent", "y": "independent"}},
    "layer": [
     {"data": {"name": "dtec"}, "transform": [{"filter": "datum.s == 'Model'"}], "mark": {"type": "line", "strokeWidth": 1.5, "clip": true},
      "encoding": {
       "x": {"field": "t", "type": "quantitative", "scale": {"domain": [6, 96], "nice": false, "zero": false},
             "axis": {"orient": "bottom", "values": [10, 20, 30, 40, 50, 60, 70, 80, 90], "tickSize": -6, "labelPadding": 17,
                      "labelExpr": "datum.value == 30 ? ['7.7', '4.3', '1530'] : datum.value == 60 ? ['7.0', '4.5', '1600'] : datum.value == 90 ? ['6.2', '4.9', '1630'] : ''",
                      "labelFontSize": 17, "labelLineHeight": 17, "labelBaseline": "top", "labelAlign": "center",
                      "title": ["L", "MLT", "hhmm", "2013 Jul 03"], "titleFontSize": 17, "titleLineHeight": 17, "titleX": -94, "titleY": 11, "titleAlign": "left", "titleBaseline": "top", "titleAngle": 0}},
       "y": {"field": "v", "type": "quantitative", "scale": {"domain": [-0.4, 0.4], "nice": false, "zero": false},
             "axis": {"orient": "left", "values": [-0.4,-0.35,-0.3,-0.25,-0.2,-0.15,-0.1,-0.05,0,0.05,0.1,0.15,0.2,0.25,0.3,0.35,0.4], "format": ".1f",
                      "labelExpr": "abs(datum.value * 5 - round(datum.value * 5)) < 0.001 ? datum.label : ''", "labelFlush": true, "labelFlushOffset": 2,
                      "tickSize": {"condition": {"test": "abs(datum.value * 5 - round(datum.value * 5)) < 0.001", "value": -24}, "value": -12},
                      "labelPadding": 28, "title": ["dTEC", "[TECU]"]}},
       "color": {"field": "s", "type": "nominal", "legend": null,
                 "scale": {"domain": ["GPS43", "GPS60", "GPS40", "THE", "Model", "GPS40c", "blue1", "blue2"], "range": ["#000000", "#8c2d7d", "#4fb563", "#ff0000", "#ff0000", "#46b0c9", "#2020e8", "#2020e8"]}}
      }},
     {"data": {"name": "dtec"}, "transform": [{"filter": "datum.s == 'GPS43'"}], "mark": {"type": "line", "strokeWidth": 2.2, "clip": true},
      "encoding": {
       "x": {"field": "t", "type": "quantitative", "axis": null},
       "y": {"field": "v", "type": "quantitative", "axis": null},
       "color": {"field": "s", "type": "nominal", "legend": null,
                 "scale": {"domain": ["GPS43", "GPS60", "GPS40", "THE", "Model", "GPS40c", "blue1", "blue2"], "range": ["#000000", "#8c2d7d", "#4fb563", "#ff0000", "#ff0000", "#46b0c9", "#2020e8", "#2020e8"]}}
      }},
     {"data": {"name": "labels"}, "transform": [{"filter": "datum.p == 'd'"}],
      "mark": {"type": "text", "align": "left", "baseline": "middle", "dx": 13, "fontSize": 18},
      "encoding": {
       "x": {"field": "t", "type": "quantitative", "axis": {"orient": "top", "values": [10, 20, 30, 40, 50, 60, 70, 80, 90], "labels": false, "tickSize": -6, "title": null}},
       "y": {"field": "v", "type": "quantitative",
             "axis": {"orient": "right", "values": [-0.4,-0.35,-0.3,-0.25,-0.2,-0.15,-0.1,-0.05,0,0.05,0.1,0.15,0.2,0.25,0.3,0.35,0.4], "labels": false,
                      "tickSize": {"condition": {"test": "abs(datum.value * 5 - round(datum.value * 5)) < 0.001", "value": -24}, "value": -12}, "title": null}},
       "text": {"field": "text"},
       "color": {"field": "s", "type": "nominal", "legend": null,
                 "scale": {"domain": ["GPS43", "GPS60", "GPS40", "THE", "Model", "GPS40c", "blue1", "blue2"], "range": ["#000000", "#8c2d7d", "#4fb563", "#ff0000", "#ff0000", "#46b0c9", "#2020e8", "#2020e8"]}}
      }},
     {"data": {"name": "cc"}, "mark": {"type": "text", "align": "right", "baseline": "middle", "fontSize": 24, "fontWeight": "bold", "color": "#222222"},
      "encoding": {
       "x": {"field": "t", "type": "quantitative", "axis": null},
       "y": {"field": "v", "type": "quantitative", "axis": null},
       "text": {"field": "text"}
      }},
     {"data": {"name": "conj"}, "mark": {"type": "rule", "strokeDash": [6, 4], "strokeWidth": 2, "color": "#000000"},
      "encoding": {"x": {"field": "t", "type": "quantitative", "axis": null}}}
    ]
   }
  ]
 }
]
}
